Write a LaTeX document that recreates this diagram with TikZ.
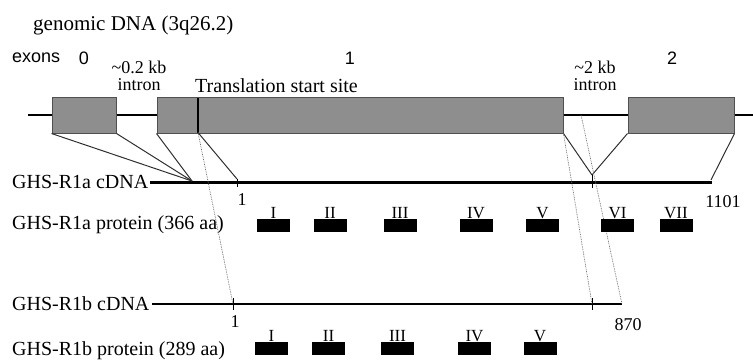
\documentclass[tikz,border=0pt]{standalone}
\usepackage{fontspec}
\setmainfont{Liberation Serif}
\newfontfamily\arialf{Liberation Sans}
\definecolor{exongray}{HTML}{8E8E8E}
\definecolor{exonedge}{HTML}{505050}
\definecolor{connc}{HTML}{303030}
\definecolor{dotc}{HTML}{707070}
\begin{document}
\begin{tikzpicture}[x=1pt,y=-1pt,
  exon/.style={draw=exonedge, fill=exongray, line width=1pt, minimum height=36pt, inner sep=0},
  dom/.style={fill=black, minimum width=33pt, minimum height=13pt, inner sep=0,
    label={[numlab, label distance=0pt]above:#1}},
  numlab/.style={font=\fontsize{17}{18}\selectfont, inner sep=0},
  poslab/.style={font=\fontsize{18}{20}\selectfont, inner sep=0},
  biglab/.style={font=\fontsize{20}{22}\selectfont, inner sep=0, anchor=west},
  midlab/.style={font=\fontsize{18}{17}\selectfont, inner sep=0, align=center},
  sanslab/.style={font=\arialf\fontsize{18}{20}\selectfont, inner sep=0},
  gline/.style={line width=2.6pt, black},
  cdnaA/.style={line width=3pt, black},
  cdnaB/.style={line width=2pt, black},
  conn/.style={line width=1pt, connc},
  tickmark/.style={line width=1pt, black},
  dotl/.style={line width=0.7pt, dotc, dash pattern=on 0.8pt off 0.9pt},
  tss/.style={line width=2.6pt, black}
]
\useasboundingbox (0,0) rectangle (753,360);

% titles
\node[biglab, font=\fontsize{21}{23}\selectfont] (title) at (33,25) {genomic DNA (3q26.2)};
\node[sanslab, anchor=west] (exons) at (12,58) {exons};
\node[sanslab] (e0) at (84,58) {0};
\node[sanslab] (e1) at (350,58) {1};
\node[sanslab] (e2) at (672,58) {2};
\node[midlab] (in1) at (139,76) {\textasciitilde0.2 kb\\intron};
\node[midlab] (in2) at (595,76) {\textasciitilde2 kb\\intron};
\node[biglab] (tsslab) at (195,86) {Translation start site};

% genomic DNA
\coordinate (gL) at (28,115);
\coordinate (gR) at (753,115);
\node[exon, minimum width=64pt] (ex0) at (84,115) {};
\node[exon, minimum width=406pt] (ex1) at (360,115) {};
\node[exon, minimum width=106pt] (ex2) at (681,115) {};
\draw[gline] (gL) -- (ex0.west);
\draw[gline] (ex0.east) -- (ex1.west);
\draw[gline] (ex1.east) -- (ex2.west);
\draw[gline] (ex2.east) -- (gR);
\coordinate (tssT) at (198,97.5);
\coordinate (tssB) at (198,132.5);
\draw[tss] (tssT) -- (tssB);
\coordinate (intr) at (581,115);

% cDNA labels
\node[biglab] (acdna) at (12,182) {GHS-R1a cDNA};
\node[biglab] (aprot) at (12,225) {GHS-R1a protein (366 aa)};
\node[biglab] (bcdna) at (12,304) {GHS-R1b cDNA};
\node[biglab] (bprot) at (12,351) {GHS-R1b protein (289 aa)};

% GHS-R1a cDNA
\coordinate (aS) at (150,182);
\coordinate (aE) at (712,182);
\draw[cdnaA] (aS) -- (aE);
\coordinate (aJ0) at (192,181);
\coordinate (a1) at (237,179);
\coordinate (a1b) at (237,187);
\coordinate (aJ6) at (592,175);
\coordinate (aJ6b) at (592,188);
\coordinate (aJ7) at (711,180);
\draw[conn] (ex0.south west) -- (aJ0);
\draw[conn] (ex0.south east) -- (aJ0);
\draw[conn] (ex1.south west) -- (aJ0);
\draw[conn] (tssB) -- (a1);
\draw[tickmark] (a1) -- (a1b);
\draw[conn] (ex1.south east) -- (aJ6);
\draw[conn] (ex2.south west) -- (aJ6);
\draw[tickmark] (aJ6) -- (aJ6b);
\draw[conn] (ex2.south east) -- (aJ7);
\node[poslab] (na1) at (242,200) {1};
\node[poslab] (na2) at (723,202) {1101};

% GHS-R1b cDNA
\coordinate (bS) at (152,304);
\coordinate (bE) at (622,304);
\draw[cdnaB] (bS) -- (bE);
\coordinate (b1) at (233,304);
\coordinate (b1t) at (233,298);
\coordinate (b1b) at (233,310);
\coordinate (b6) at (592,304);
\coordinate (b6t) at (592,298);
\coordinate (b6b) at (592,310);
\draw[tickmark] (b1t) -- (b1b);
\draw[tickmark] (b6t) -- (b6b);
\draw[dotl] (tssB) -- (b1);
\draw[dotl] (ex1.south east) -- (b6);
\draw[dotl] (intr) -- (bE);
\node[poslab] (nb1) at (235,322) {1};
\node[poslab] (nb2) at (628,325) {870};

% GHS-R1a protein domains
\node[dom=I] (aI) at (273.5,225.5) {};
\node[dom=II] (aII) at (330,225.5) {};
\node[dom=III] (aIII) at (400,225.5) {};
\node[dom=IV] (aIV) at (476,225.5) {};
\node[dom=V] (aV) at (542.5,225.5) {};
\node[dom=VI] (aVI) at (617.5,225.5) {};
\node[dom=VII] (aVII) at (676,225.5) {};

% GHS-R1b protein domains
\node[dom=I] (bI) at (271.5,348.5) {};
\node[dom=II] (bII) at (328.5,348.5) {};
\node[dom=III] (bIII) at (397.5,348.5) {};
\node[dom=IV] (bIV) at (474.5,348.5) {};
\node[dom=V] (bV) at (540,348.5) {};
\end{tikzpicture}
\end{document}
